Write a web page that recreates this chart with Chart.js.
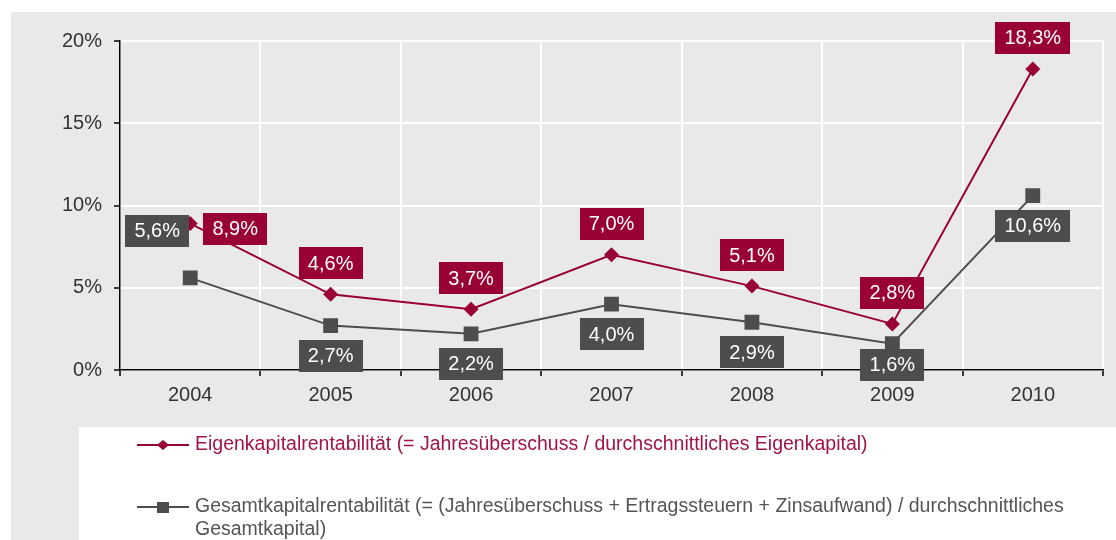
<!DOCTYPE html>
<html>
<head>
<meta charset="utf-8">
<script src="https://cdn.jsdelivr.net/npm/chart.js"></script>
<style>
    body { margin: 0; background: #ffffff; }
    canvas { display: block; }
</style>
</head>
<body>
<canvas id="chartRendite" width="1116" height="540"></canvas>
<script>
// Daten
const years = ['2004', '2005', '2006', '2007', '2008', '2009', '2010'];
const eigenkapitalRendite = [8.9, 4.6, 3.7, 7.0, 5.1, 2.8, 18.3];
const gesamtkapitalRendite = [5.6, 2.7, 2.2, 4.0, 2.9, 1.6, 10.6];
const yTickValues = [0, 5, 10, 15, 20];
const legendEigen = ['Eigenkapitalrentabilität (= Jahresüberschuss / durchschnittliches Eigenkapital)'];
const legendGesamt = [
    'Gesamtkapitalrentabilität (= (Jahresüberschuss + Ertragssteuern + Zinsaufwand) / durchschnittliches',
    'Gesamtkapital)',
];

const rot = '#990033';
const grau = '#4d4d4d';
const fontFamily = '"Liberation Sans", Arial, sans-serif';
Chart.defaults.font.family = fontFamily;

function fmtProzent(v) {
    return v.toFixed(1).replace('.', ',') + '%';
}

// Hintergrund (grau) + weisser Legendenkasten
const hintergrund = {
    id: 'hintergrund',
    beforeDraw(chart) {
        const ctx = chart.ctx;
        const unten = chart.scales.x.bottom;
        ctx.save();
        ctx.fillStyle = '#e9e9e9';
        ctx.fillRect(11, 12, chart.width - 11, chart.height - 12);
        ctx.fillStyle = '#ffffff';
        ctx.fillRect(79, unten, chart.width - 79, chart.height - unten);
        ctx.restore();
    },
};

// Wertbeschriftungen in farbigen Kaesten
const wertLabels = {
    id: 'wertLabels',
    afterDatasetsDraw(chart) {
        const ctx = chart.ctx;
        ctx.save();
        ctx.font = '20px ' + fontFamily;
        ctx.textAlign = 'center';
        ctx.textBaseline = 'middle';
        chart.data.datasets.forEach((ds, i) => {
            const meta = chart.getDatasetMeta(i);
            meta.data.forEach((pt, j) => {
                const text = fmtProzent(ds.data[j]);
                const shift = (ds.labelShift && ds.labelShift[j]) || [0, ds.labelDy];
                const cx = pt.x + shift[0];
                const cy = pt.y + shift[1];
                const w = Math.round(ctx.measureText(text).width + 18);
                const h = 32;
                ctx.fillStyle = ds.borderColor;
                ctx.fillRect(Math.round(cx - w / 2), Math.round(cy - h / 2), w, h);
                ctx.fillStyle = '#ffffff';
                ctx.fillText(text, cx, cy + 1);
            });
        });
        ctx.restore();
    },
};

// Legende unten
const legende = {
    id: 'legende',
    afterDraw(chart) {
        const ctx = chart.ctx;
        const eintraege = [
            { texte: legendEigen, farbe: rot, textFarbe: '#a0144a', y: 445, marker: 'diamond' },
            { texte: legendGesamt, farbe: grau, textFarbe: '#555555', y: 507, marker: 'square' },
        ];
        ctx.save();
        ctx.font = '19.5px ' + fontFamily;
        ctx.textBaseline = 'middle';
        ctx.textAlign = 'left';
        eintraege.forEach((e) => {
            ctx.strokeStyle = e.farbe;
            ctx.lineWidth = 2;
            ctx.beginPath();
            ctx.moveTo(137, e.y);
            ctx.lineTo(189, e.y);
            ctx.stroke();
            ctx.fillStyle = e.farbe;
            ctx.beginPath();
            if (e.marker === 'diamond') {
                ctx.moveTo(163, e.y - 5);
                ctx.lineTo(169, e.y);
                ctx.lineTo(163, e.y + 5);
                ctx.lineTo(157, e.y);
                ctx.closePath();
            } else {
                ctx.rect(157, e.y - 5, 12, 11);
            }
            ctx.fill();
            ctx.fillStyle = e.textFarbe;
            e.texte.forEach((t, k) => {
                ctx.fillText(t, 195, e.y + k * 23);
            });
        });
        ctx.restore();
    },
};

const ctx = document.getElementById('chartRendite').getContext('2d');
const myChart = new Chart(ctx, {
    type: 'line',
    data: {
        labels: years,
        datasets: [
            {
                label: legendGesamt.join(' '),
                data: gesamtkapitalRendite,
                borderColor: grau,
                backgroundColor: grau,
                borderWidth: 2,
                pointStyle: 'rect',
                pointRadius: 10.5,
                pointHoverRadius: 10.5,
                pointBorderWidth: 0,
                labelDy: 30,
                labelShift: { 0: [-33, -47], 5: [0, 21] },
            },
            {
                label: legendEigen[0],
                data: eigenkapitalRendite,
                borderColor: rot,
                backgroundColor: rot,
                borderWidth: 2,
                pointStyle: 'rectRot',
                pointRadius: 7.5,
                pointHoverRadius: 7.5,
                pointBorderWidth: 0,
                labelDy: -31,
                labelShift: { 0: [45, 5] },
            },
        ],
    },
    options: {
        responsive: false,
        animation: false,
        events: [],
        layout: {
            padding: { top: 41, right: 13, bottom: 113, left: 0 },
        },
        plugins: {
            legend: { display: false },
            tooltip: { enabled: false },
        },
        elements: {
            line: { tension: 0 },
        },
        scales: {
            x: {
                offset: true,
                grid: {
                    offset: true,
                    color: '#ffffff',
                    lineWidth: 2,
                    tickColor: '#000000',
                    tickLength: 6,
                    tickWidth: 1.5,
                },
                border: { color: '#000000', width: 1.5 },
                ticks: {
                    color: '#333333',
                    font: { size: 20 },
                    padding: 7,
                },
                afterFit(scale) {
                    scale.height = 57;
                },
            },
            y: {
                min: 0,
                max: 20,
                afterBuildTicks(scale) {
                    scale.ticks = yTickValues.map((v) => ({ value: v }));
                },
                grid: {
                    color: '#ffffff',
                    lineWidth: 2,
                    tickColor: '#000000',
                    tickLength: 6,
                    tickWidth: 1.5,
                },
                border: { color: '#000000', width: 1.5 },
                ticks: {
                    color: '#333333',
                    font: { size: 20 },
                    padding: 12,
                    callback: (v) => v + '%',
                },
                afterFit(scale) {
                    scale.width = 120;
                },
            },
        },
    },
    plugins: [hintergrund, wertLabels, legende],
});
</script>
</body>
</html>
